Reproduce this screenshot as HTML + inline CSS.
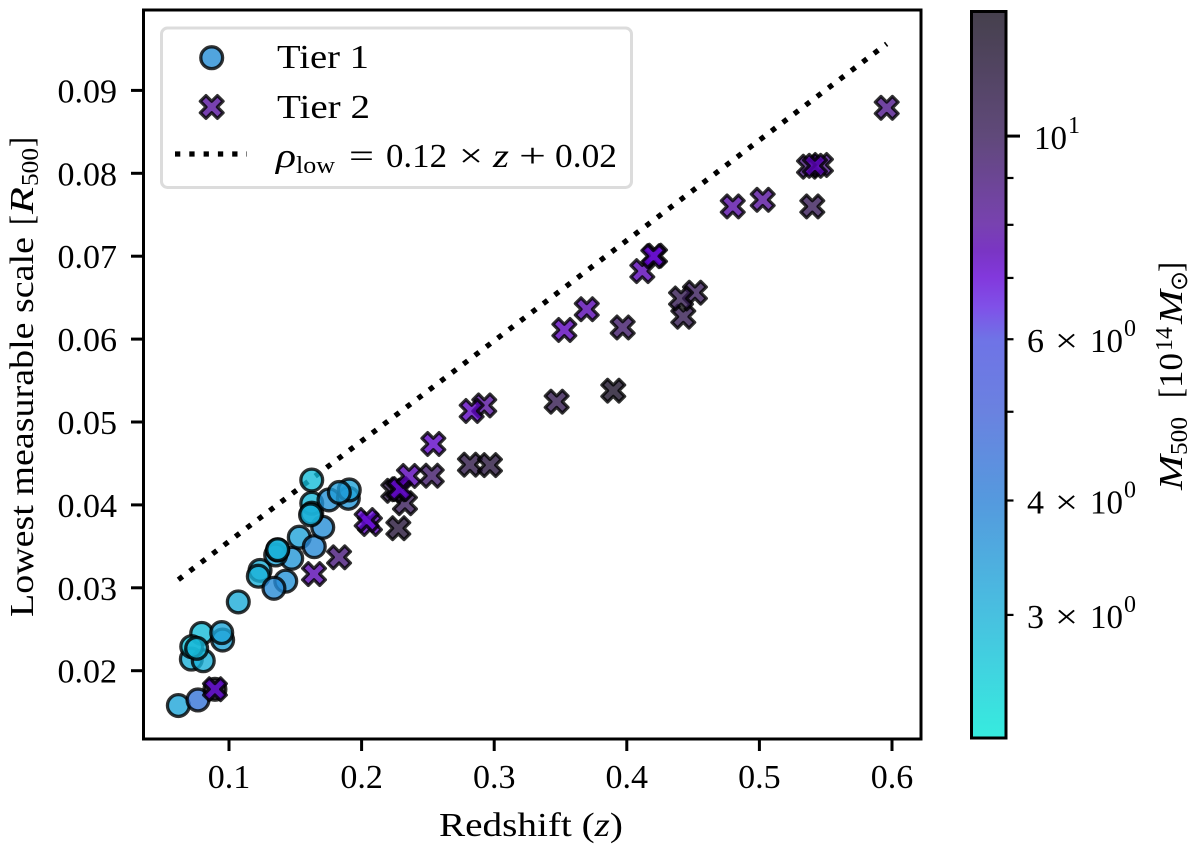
<!DOCTYPE html>
<html lang="en">
<head>
<meta charset="utf-8">
<title>Lowest measurable scale vs redshift</title>
<style>
html,body{margin:0;padding:0;background:#fff;}
svg{display:block;}
text{font-family:"Liberation Serif","DejaVu Serif",serif;fill:#000;}
</style>
</head>
<body>
<svg id="chart" xmlns="http://www.w3.org/2000/svg" width="1200" height="851" viewBox="0 0 1200 851">
  <defs>
    <linearGradient id="cbar-gradient" x1="0" y1="1" x2="0" y2="0"></linearGradient>
    <clipPath id="plot-clip"><rect x="143" y="10" width="778" height="729"></rect></clipPath>
  </defs>
  <g id="marks" clip-path="url(#plot-clip)"></g>
  <rect x="143.5" y="10" width="777.5" height="729" fill="none" stroke="#000" stroke-width="3"></rect>
  <g id="x-ticks"></g>
  <g id="y-ticks"></g>

  <text x="439" y="836" font-size="34" textLength="184" lengthAdjust="spacingAndGlyphs">Redshift (<tspan font-style="italic">z</tspan>)</text>
  <text transform="translate(33,617) rotate(-90)" font-size="34" textLength="380" lengthAdjust="spacingAndGlyphs">Lowest measurable scale</text>
  <g font-size="34">
    <text transform="translate(33,225) rotate(-90)" textLength="10" lengthAdjust="spacingAndGlyphs">[</text>
    <text transform="translate(33,214) rotate(-90)" font-style="italic" textLength="27" lengthAdjust="spacingAndGlyphs">R</text>
    <text transform="translate(38,186) rotate(-90)" font-size="24" textLength="38" lengthAdjust="spacingAndGlyphs">500</text>
    <text transform="translate(33,147) rotate(-90)" textLength="10" lengthAdjust="spacingAndGlyphs">]</text>
  </g>

  <g>
    <rect x="161.5" y="28" width="470" height="159.5" rx="6" fill="#fff" fill-opacity="0.8" stroke="#dcdcdc" stroke-width="3"></rect>
    <g id="legend-markers"></g>
    <line x1="175" y1="154" x2="247" y2="154" stroke="#000" stroke-width="5.3" stroke-dasharray="5.3 9"></line>
    <text x="277" y="68" font-size="34" textLength="92" lengthAdjust="spacingAndGlyphs">Tier 1</text>
    <text x="277" y="118" font-size="34" textLength="93" lengthAdjust="spacingAndGlyphs">Tier 2</text>
    <g font-size="34">
      <text x="276" y="167" font-style="italic" textLength="20" lengthAdjust="spacingAndGlyphs">ρ</text>
      <text x="296" y="173" font-size="24" textLength="39" lengthAdjust="spacingAndGlyphs">low</text>
      <text x="349" y="167" textLength="25" lengthAdjust="spacingAndGlyphs">=</text>
      <text x="386" y="167" textLength="61" lengthAdjust="spacingAndGlyphs">0.12</text>
      <text x="459" y="167" textLength="24" lengthAdjust="spacingAndGlyphs">×</text>
      <text x="493" y="167" font-style="italic" textLength="16" lengthAdjust="spacingAndGlyphs">z</text>
      <text x="519" y="167" textLength="27" lengthAdjust="spacingAndGlyphs">+</text>
      <text x="555" y="167" textLength="62" lengthAdjust="spacingAndGlyphs">0.02</text>
    </g>
  </g>

  <rect id="cbar-fill" x="970" y="10" width="37" height="729" fill="url(#cbar-gradient)"></rect>
  <rect x="971.5" y="11.5" width="34.5" height="726.5" fill="none" stroke="#000" stroke-width="3"></rect>
  <g id="cbar-ticks"></g>
  <g font-size="34">
    <text transform="translate(1182,490) rotate(-90)" font-style="italic" textLength="35" lengthAdjust="spacingAndGlyphs">M</text>
    <text transform="translate(1187,455) rotate(-90)" font-size="24" textLength="38" lengthAdjust="spacingAndGlyphs">500</text>
    <text transform="translate(1182,398) rotate(-90)" textLength="10" lengthAdjust="spacingAndGlyphs">[</text>
    <text transform="translate(1182,388) rotate(-90)" textLength="35" lengthAdjust="spacingAndGlyphs">10</text>
    <text transform="translate(1172,351) rotate(-90)" font-size="24" textLength="24" lengthAdjust="spacingAndGlyphs">14</text>
    <text transform="translate(1182,324) rotate(-90)" font-style="italic" textLength="34" lengthAdjust="spacingAndGlyphs">M</text>
    <text transform="translate(1187,291) rotate(-90)" font-size="24" style="font-family:'DejaVu Sans',sans-serif" textLength="20" lengthAdjust="spacingAndGlyphs">⊙</text>
    <text transform="translate(1182,272) rotate(-90)" textLength="10" lengthAdjust="spacingAndGlyphs">]</text>
  </g>
</svg>
<script>
// Data
const tier1Z    = [0.0618,0.0766,0.0716,0.0806,0.0794,0.0719,0.0756,0.0952,0.0945,0.1070,0.1234,0.1221,0.1428,0.1339,0.1473,0.1352,0.1367,0.1367,0.1530,0.1643,0.1707,0.1624,0.1624,0.1624,0.1615,0.1754,0.1900,0.1907,0.1832,0.0894];
const tier1Rho  = [0.0158,0.01647,0.0214,0.0212,0.0245,0.0229,0.0227,0.0237,0.0246,0.0283,0.0321,0.0314,0.0308,0.02994,0.03356,0.03396,0.03456,0.0346,0.0361,0.03496,0.0373,0.0430,0.0402,0.0390,0.0388,0.0406,0.0408,0.0418,0.0415,0.01776];
const tier1Mass = [3.2,4.4,3.0,3.0,2.8,2.7,2.9,3.25,3.2,3.1,3.0,3.0,3.6,3.75,3.5,3.2,3.0,3.0,3.25,3.8,3.7,2.8,2.9,3.0,3.0,3.6,3.5,3.25,3.4,13];

const tier2Z    = [0.0894,0.1641,0.1830,0.2063,0.2038,0.2277,0.2327,0.2239,0.2277,0.2290,0.2357,0.2529,0.2541,0.2817,0.2968,0.2925,0.2830,0.3471,0.3898,0.3529,0.3698,0.3969,0.5960,0.4117,0.4213,0.4200,0.4426,0.4514,0.4409,0.4799,0.5025,0.5399,0.5374,0.5464,0.5419];
const tier2Rho  = [0.01776,0.03166,0.03368,0.0377,0.03817,0.03718,0.0402,0.0417,0.04188,0.0419,0.04349,0.04352,0.04735,0.04485,0.0448,0.0520,0.05133,0.05245,0.05378,0.0611,0.0636,0.0614,0.0879,0.0682,0.07006,0.0700,0.0627,0.0656,0.0649,0.0760,0.0768,0.0760,0.0808,0.0810,0.0809];
const tier2Mass = [7.0,7.6,9,7.4,7.0,12,10,11,8,7.2,7.5,9.5,7.2,11,11.5,8,7.3,10.5,13,7.4,7.6,9.5,8.5,7.5,7.0,7.2,10.5,10,10.5,7.8,8,10,9,8.5,7.5];

const fitZ = [0.0618, 0.596];
const fitSlope = 0.121;
const fitOffset = 0.0235;

const xTickValues = [0.1,0.2,0.3,0.4,0.5,0.6];
const xTickLabels = ["0.1","0.2","0.3","0.4","0.5","0.6"];
const yTickValues = [0.02,0.03,0.04,0.05,0.06,0.07,0.08,0.09];
const yTickLabels = ["0.02","0.03","0.04","0.05","0.06","0.07","0.08","0.09"];
const cbarMajorValues = [10];
const cbarMinorValues = [9,8,7,6,5,4,3];
const cbarLabelValues = [6,4,3];
const cbarLabelDigits = ["6","4","3"];
const massMin = 2.196;
const massMax = 13.73;

// Colormap as displayed on the colorbar
const cmapPositions = [0,0.17,0.329,0.449,0.548,0.593,0.634,0.669,0.706,0.827,1];
const cmapColors = ["#36ecdf","#48c0e0","#5599de","#6a82e0","#6f73e6","#8050e8","#8238dc","#7a35c4","#7842b0","#60497a","#45404c"];

const NS = "http://www.w3.org/2000/svg";
const xScale = z => 229 + (z - 0.1) * 1326;
const yScale = r => 670.7 - (r - 0.02) * 8290;
const massNorm = m => Math.log10(m / massMin) / Math.log10(massMax / massMin);
const massY = m => 739 - massNorm(m) * 729;

function hexToRgb(h){return [1,3,5].map(i=>parseInt(h.substr(i,2),16));}
function massColor(m){
  const t = Math.max(0, Math.min(1, massNorm(m)));
  let i = 0;
  while (i < cmapPositions.length - 2 && t > cmapPositions[i+1]) i++;
  const f = (t - cmapPositions[i]) / (cmapPositions[i+1] - cmapPositions[i]);
  const a = hexToRgb(cmapColors[i]), b = hexToRgb(cmapColors[i+1]);
  // un-premultiply against white for alpha 0.8 so a single marker matches the colorbar
  const c = a.map((v,k)=>{
    const d = v + (b[k]-v)*f;
    return Math.max(0, Math.min(255, Math.round((d-51)/0.8)));
  });
  return "rgb("+c.join(",")+")";
}
function svgEl(tag, attrs, parent){
  const e = document.createElementNS(NS, tag);
  for (const k in attrs) e.setAttribute(k, attrs[k]);
  parent.appendChild(e);
  return e;
}
const marks = document.getElementById("marks");

// Colorbar gradient
const grad = document.getElementById("cbar-gradient");
cmapPositions.forEach((p,i)=>{
  svgEl("stop",{offset:p,"stop-color":cmapColors[i]},grad);
});

// Circle marker
function drawCircle(x,y,color,parent){
  return svgEl("circle",{cx:x,cy:y,r:10.9,fill:color,"fill-opacity":0.8,stroke:"#000","stroke-opacity":0.8,"stroke-width":3.3},parent);
}
// Filled X marker (matplotlib shape)
const crossShape = [[-1,-2],[0,-1],[1,-2],[2,-1],[1,0],[2,1],[1,2],[0,1],[-1,2],[-2,1],[-1,0],[-2,-1]];
function drawCross(x,y,color,parent){
  const u = 5.7;
  const pts = crossShape.map(p=>(x+p[0]*u).toFixed(2)+","+(y+p[1]*u).toFixed(2)).join(" ");
  return svgEl("polygon",{points:pts,fill:color,"fill-opacity":0.8,stroke:"#000","stroke-opacity":0.8,"stroke-width":3.2,"stroke-linejoin":"round"},parent);
}

// Fit line
const fitLine = svgEl("line",{
  x1:xScale(fitZ[0]),y1:yScale(fitSlope*fitZ[0]+fitOffset),
  x2:xScale(fitZ[1]),y2:yScale(fitSlope*fitZ[1]+fitOffset),
  stroke:"#000","stroke-width":5.3,"stroke-dasharray":"5.3 9"
},marks);



// Tier 1
tier1Z.forEach((z,i)=>{
  const c = drawCircle(xScale(z),yScale(tier1Rho[i]),massColor(tier1Mass[i]),marks);
  
  
});
// Tier 2
tier2Z.forEach((z,i)=>{
  const c = drawCross(xScale(z),yScale(tier2Rho[i]),massColor(tier2Mass[i]),marks);
  
  
});

// Legend markers
const legendMarkers = document.getElementById("legend-markers");
const legendCircle = drawCircle(211.7,57.7,massColor(3.7),legendMarkers);


const legendCross = drawCross(211.7,107,massColor(8),legendMarkers);



// X axis
const xG = document.getElementById("x-ticks");
xTickValues.forEach((v,i)=>{
  const x = xScale(v);
  const t = svgEl("line",{x1:x,y1:739,x2:x,y2:751,stroke:"#000","stroke-width":3},xG);
  
  
  const l = svgEl("text",{x:x,y:788,"font-size":34,"text-anchor":"middle"},xG);
  l.textContent = xTickLabels[i];
  
  
});

// Y axis
const yG = document.getElementById("y-ticks");
yTickValues.forEach((v,i)=>{
  const y = yScale(v);
  const t = svgEl("line",{x1:131,y1:y,x2:143,y2:y,stroke:"#000","stroke-width":3},yG);
  
  
  const l = svgEl("text",{x:117,y:y+12,"font-size":34,"text-anchor":"end"},yG);
  l.textContent = yTickLabels[i];
  
  
});

// Colorbar axis
const cG = document.getElementById("cbar-ticks");
cbarMajorValues.forEach(v=>{
  const y = massY(v);
  const t = svgEl("line",{x1:1007,y1:y,x2:1020,y2:y,stroke:"#000","stroke-width":3},cG);
  
  
  const a = svgEl("text",{x:1034,y:y+13,"font-size":34,textLength:33,lengthAdjust:"spacingAndGlyphs"},cG);
  a.textContent = "10";
  
  
  const b = svgEl("text",{x:1068,y:y-3,"font-size":24},cG);
  b.textContent = "1";
  
  
});
cbarMinorValues.forEach(v=>{
  const y = massY(v);
  const t = svgEl("line",{x1:1007,y1:y,x2:1013.5,y2:y,stroke:"#000","stroke-width":2.2},cG);
  
  
});
cbarLabelValues.forEach((v,i)=>{
  const y = massY(v);
  const base = y + 13;
  const d = svgEl("text",{x:1027,y:base,"font-size":34},cG);
  d.textContent = cbarLabelDigits[i];
  
  
  const m = svgEl("text",{x:1055,y:base,"font-size":34,textLength:23,lengthAdjust:"spacingAndGlyphs"},cG);
  m.textContent = "×";
  
  
  const p = svgEl("text",{x:1090,y:base,"font-size":34,textLength:33,lengthAdjust:"spacingAndGlyphs"},cG);
  p.textContent = "10";
  
  
  const e = svgEl("text",{x:1124,y:base-16,"font-size":24},cG);
  e.textContent = "0";
  
  
});
</script>
</body>
</html>
